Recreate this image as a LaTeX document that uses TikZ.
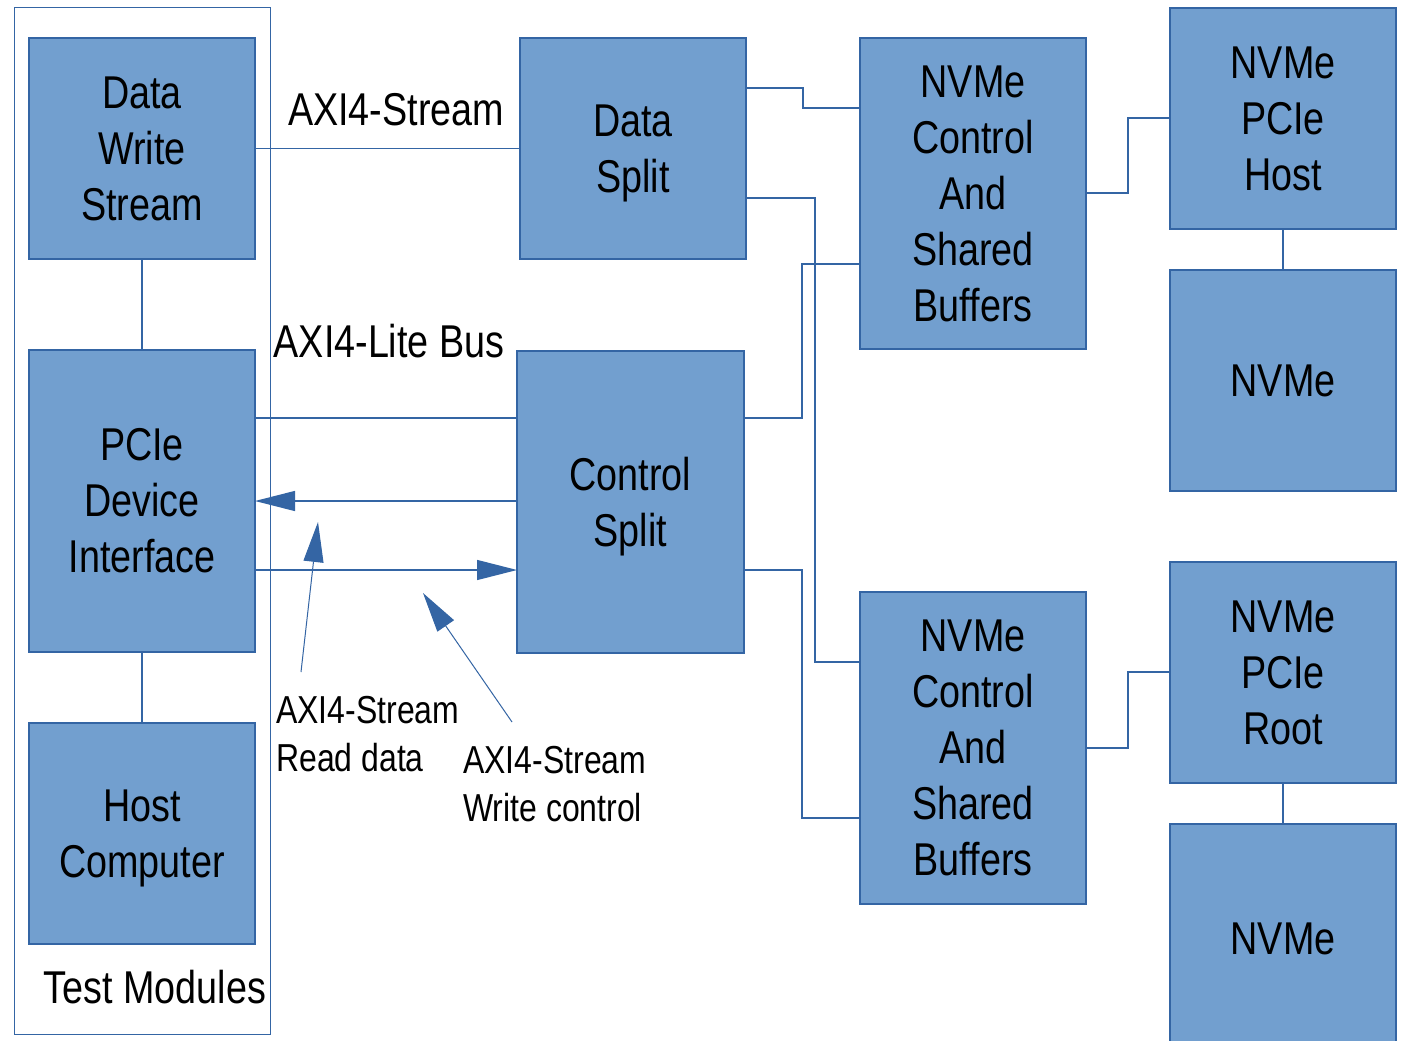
\documentclass[tikz,border=0pt]{standalone}
\usepackage{fontspec}
\setmainfont{Liberation Sans}[FakeStretch=0.82]
\usetikzlibrary{arrows.meta}
\definecolor{boxfill}{HTML}{729FCF}
\definecolor{bord}{HTML}{3465A4}
\tikzset{
  blk/.style={draw=bord, fill=boxfill, line width=1.2pt, outer sep=0pt, inner sep=0pt,
    align=center, font=\fontsize{46}{56}\selectfont},
  nodesc/.style={text depth=0pt},
  wire/.style={draw=bord, line width=1.3pt},
  tip/.style={-{Triangle[length=40pt,width=20pt]}},
  lbl/.style={inner sep=0pt, font=\fontsize{46}{56}\selectfont},
  small/.style={inner sep=0pt, align=left, font=\fontsize{39}{48}\selectfont},
  grp/.style={draw=bord, line width=1pt, outer sep=0pt, inner sep=0pt}
}
\begin{document}
\begin{tikzpicture}[x=1pt,y=-1pt]
\clip (0,0) rectangle (1403,1041);
\fill[white] (0,0) rectangle (1403,1041);

% test module group frame
\node[grp, minimum width=256, minimum height=1026] (tm) at (142,521) {};
\node[lbl] (tmlabel) at (155,987) {Test Modules};

% blocks
\node[blk, minimum width=226, minimum height=221] (dws) at (142,148.5) {Data\\Write\\Stream};
\node[blk, minimum width=226, minimum height=302] (pcie) at (142,501) {PCIe\\Device\\Interface};
\node[blk, nodesc, minimum width=226, minimum height=221] (host) at (142,833.5) {Host\\Computer};
\node[blk, nodesc, minimum width=226, minimum height=221] (dsp) at (633,148.5) {Data\\Split};
\node[blk, nodesc, minimum width=227, minimum height=302] (csp) at (630.5,502) {Control\\Split};
\node[blk, minimum width=226, minimum height=311] (nc1) at (973,193.5) {NVMe\\Control\\And\\Shared\\Buffers};
\node[blk, minimum width=226, minimum height=312] (nc2) at (973,748) {NVMe\\Control\\And\\Shared\\Buffers};
\node[blk, minimum width=226, minimum height=221] (phost) at (1283,118.5) {NVMe\\PCIe\\Host};
\node[blk, minimum width=226, minimum height=221] (nv1) at (1283,380.5) {NVMe};
\node[blk, minimum width=226, minimum height=221] (proot) at (1283,672.5) {NVMe\\PCIe\\Root};
\node[blk, minimum width=226, minimum height=230] (nv2) at (1283,939) {NVMe};

% bus labels
\node[lbl] (axis) at (396,110) {AXI4-Stream};
\node[lbl] (axil) at (389,341) {AXI4-Lite Bus};
\node[small, anchor=west] (rdlbl) at (276,734) {AXI4-Stream\\Read data};
\node[small, anchor=west] (wclbl) at (463,784) {AXI4-Stream\\Write control};

% connections inside the test modules
\draw[wire, line width=1pt] (dws.east) -- (dsp.west);
\draw[wire] (dws.south) -- (pcie.north);
\draw[wire] (pcie.south) -- (host.north);
\draw[wire] (pcie.east |- 0,418) -- (csp.west |- 0,418);
\draw[wire, tip] (csp.west |- 0,501) -- (pcie.east |- 0,501);
\draw[wire, tip] (pcie.east |- 0,570) -- (csp.west |- 0,570);

% splits to the NVMe controllers
\draw[wire] (dsp.east |- 0,88) -| (803,108) -- (nc1.west |- 0,108);
\draw[wire] (dsp.east |- 0,198) -| (815,662) -- (nc2.west |- 0,662);
\draw[wire] (csp.east |- 0,418) -| (802,264) -- (nc1.west |- 0,264);
\draw[wire] (csp.east |- 0,570) -| (802,818) -- (nc2.west |- 0,818);

% controllers to PCIe host/root and drives
\draw[wire] (nc1.east |- 0,193) -| (1128,118) -- (phost.west |- 0,118);
\draw[wire] (phost.south) -- (nv1.north);
\draw[wire] (nc2.east |- 0,748) -| (1128,672) -- (proot.west |- 0,672);
\draw[wire] (proot.south) -- (nv2.north);

% annotation pointers
\coordinate (rdfrom) at (301,672);
\coordinate (rdto) at (318,522);
\coordinate (wcfrom) at (512,722);
\coordinate (wcto) at (423,593);
\draw[wire, line width=1pt, tip] (rdfrom) -- (rdto);
\draw[wire, line width=1pt, tip] (wcfrom) -- (wcto);
\end{tikzpicture}
\end{document}
